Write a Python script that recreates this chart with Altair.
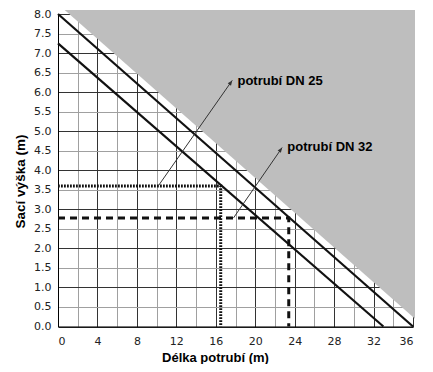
import altair as alt
import pandas as pd

# ---- data ----
dn32_x = [0, 36]
dn32_y = [8.0, 0.0]
dn25_x = [0, 33]
dn25_y = [7.25, 0.0]
gray_x = [0.68, 36.2]
gray_y = [8.1, 0.2]
gray_top = 8.1
dot_x = [0, 16.5, 16.5]
dot_y = [3.6, 3.6, 0.0]
dash_x = [0, 23.4, 23.4]
dash_y = [2.78, 2.78, 0.0]
lead25_x = [10.2, 17.67]
lead25_y = [3.61, 6.30]
lead32_x = [17.8, 22.73]
lead32_y = [2.78, 4.58]
label_text = ["potrubí DN 25", "potrubí DN 32"]
label_x = [18.2, 23.25]
label_y = [6.18, 4.50]
x_ticks = [0, 2, 4, 6, 8, 10, 12, 14, 16, 18, 20, 22, 24, 26, 28, 30, 32, 34, 36]
y_ticks = [0.0, 0.5, 1.0, 1.5, 2.0, 2.5, 3.0, 3.5, 4.0, 4.5, 5.0, 5.5, 6.0, 6.5,
           7.0, 7.5, 8.0]

xs = alt.Scale(domain=[0, 36], nice=False, zero=False)
ys = alt.Scale(domain=[0, 8], nice=False, zero=False)

xaxis = alt.Axis(
    values=x_ticks, format="d",
    labelExpr="datum.value % 4 === 0 ? datum.label : ''",
    grid=True,
    gridColor={"condition": {"test": "datum.value % 4 === 0", "value": "#333333"},
               "value": "#a0a0a0"},
    gridWidth=1,
    ticks=False, tickSize=0,
    domainColor="black", domainWidth=1,
    labelFont="DejaVu Sans", labelFontSize=11, labelColor="#222222",
    labelPadding=9,
    title="Délka potrubí (m)", titleFont="Liberation Sans", titleFontSize=13,
    titleFontWeight="bold", titleColor="black",
    titleX=157, titleY=35, titleBaseline="alphabetic", titleAlign="center",
)
yaxis = alt.Axis(
    values=y_ticks, format=".1f",
    grid=True,
    gridColor={"condition": {"test": "datum.value % 1 === 0", "value": "#333333"},
               "value": "#a0a0a0"},
    gridWidth=1,
    ticks=False, tickSize=0,
    domainColor="black", domainWidth=1,
    labelFont="DejaVu Sans", labelFontSize=11, labelColor="#222222",
    labelPadding=7,
    title="Sací výška (m)", titleFont="Liberation Sans", titleFontSize=13.5,
    titleFontWeight="bold", titleColor="black",
    titleX=-37.5, titleY=167, titleAngle=-90, titleBaseline="middle",
    titleAlign="center",
)


def X():
    return alt.X("x:Q", scale=xs, axis=xaxis)


def Y():
    return alt.Y("y:Q", scale=ys, axis=yaxis)


gray_df = pd.DataFrame({"x": gray_x, "y": gray_y, "y2": [gray_top] * len(gray_x)})
gray = alt.Chart(gray_df).mark_area(color="#bebebe", opacity=1).encode(
    x=X(), y=Y(), y2="y2:Q"
)


def path_df(xv, yv):
    return pd.DataFrame({"x": xv, "y": yv, "o": list(range(len(xv)))})


def line_layer(xv, yv, **kw):
    return alt.Chart(path_df(xv, yv)).mark_line(**kw).encode(
        x=X(), y=Y(), order="o:Q"
    )


dn32 = line_layer(dn32_x, dn32_y, color="#111111", strokeWidth=2.2)
dn25 = line_layer(dn25_x, dn25_y, color="#111111", strokeWidth=2.2)
dotted = line_layer(dot_x, dot_y, color="#111111", strokeWidth=3,
                    strokeDash=[1.8, 1.2], strokeCap="butt")
dashed = line_layer(dash_x, dash_y, color="#111111", strokeWidth=3,
                    strokeDash=[7, 5], strokeCap="butt")
lead25 = line_layer(lead25_x, lead25_y, color="#333333", strokeWidth=1)
lead32 = line_layer(lead32_x, lead32_y, color="#333333", strokeWidth=1)

heads_df = pd.DataFrame({"x": [lead25_x[-1], lead32_x[-1]],
                         "y": [lead25_y[-1], lead32_y[-1]]})
heads = alt.Chart(heads_df).mark_point(
    shape="M0,0L-0.4,1L0.4,1Z", filled=True, color="#333333", size=100,
    angle=35, opacity=1
).encode(x=X(), y=Y())

labels_df = pd.DataFrame({"x": label_x, "y": label_y, "t": label_text})
labels = alt.Chart(labels_df).mark_text(
    align="left", baseline="alphabetic", font="Liberation Sans",
    fontSize=13, fontWeight="bold", color="black"
).encode(x=X(), y=Y(), text="t:N")

chart = alt.layer(
    gray, dn25, dn32, dotted, dashed, lead25, lead32, heads, labels
).properties(
    width=355, height=312.5,
    autosize=alt.AutoSizeParams(type="none"),
    padding={"left": 50, "top": 6, "right": 5, "bottom": 37.5},
).configure_view(stroke=None).configure(background="white")

chart.save("out.html", embed_options={"renderer": "svg", "actions": False})
